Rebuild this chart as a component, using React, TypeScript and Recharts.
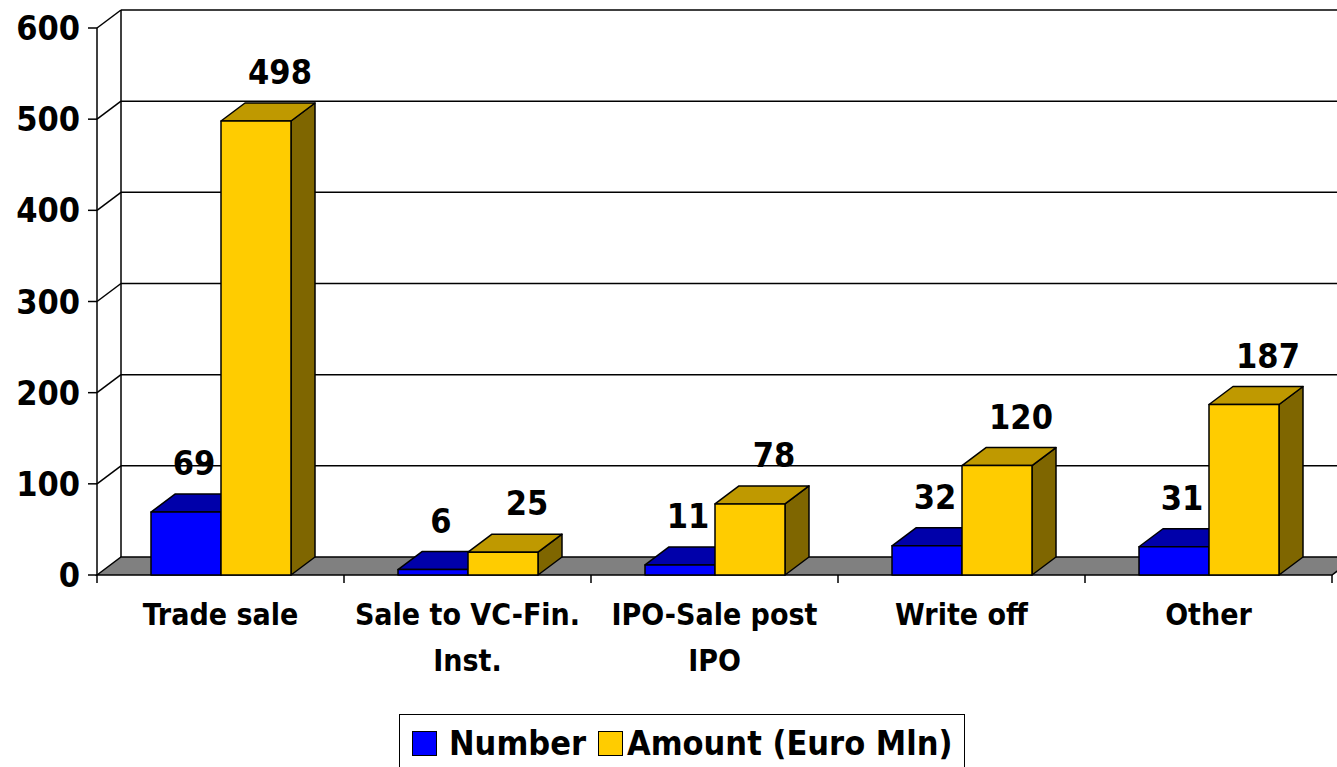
import { BarChart, Bar, XAxis, YAxis, CartesianGrid, LabelList, Legend } from 'recharts';

// exit routes, number of exits and amount divested
const categories = ['Trade sale', 'Sale to VC-Fin. Inst.', 'IPO-Sale post IPO', 'Write off', 'Other'];
const categoryLines = [['Trade sale'], ['Sale to VC-Fin.', 'Inst.'], ['IPO-Sale post', 'IPO'], ['Write off'], ['Other']];
const numberValues = [69, 6, 11, 32, 31];
const amountValues = [498, 25, 78, 120, 187];
const yTicks = [0, 100, 200, 300, 400, 500, 600];

const data = categories.map((name, i) => ({
    name,
    number: numberValues[i],
    amount: amountValues[i],
}));

const FONT = "'DejaVu Sans Condensed', 'DejaVu Sans', sans-serif";
const DX = 24;  // depth of the 3d effect
const DY = 18;

const Box3D = (props: any) => {
    const { x, y, width, height, front, top, side } = props;
    if (height == null || width == null) return null;
    return (
        <g stroke="#000" strokeWidth={1.5} strokeLinejoin="round">
            <polygon points={`${x + width},${y} ${x + width + DX},${y - DY} ${x + width + DX},${y + height - DY} ${x + width},${y + height}`} fill={side} />
            <polygon points={`${x},${y} ${x + DX},${y - DY} ${x + width + DX},${y - DY} ${x + width},${y}`} fill={top} />
            <rect x={x} y={y} width={width} height={height} fill={front} />
        </g>
    );
};

const renderHLine = (p: any) => {
    const { x1, x2, y1, y, height } = p;
    const bottom = y + height;
    if (Math.abs(y1 - bottom) < 1) {
        // floor + back wall left edge
        return (
            <g key={p.key}>
                <line x1={x1 + DX} y1={y - DY} x2={x1 + DX} y2={bottom - DY} stroke="#000" strokeWidth={1.5} />
                <polygon points={`${x1},${bottom} ${x1 + DX},${bottom - DY} ${x2 + DX},${bottom - DY} ${x2},${bottom}`}
                    fill="#808080" stroke="#000" strokeWidth={1.5} />
            </g>
        );
    }
    return (
        <g key={p.key}>
            <line x1={x1} y1={y1} x2={x1 + DX} y2={y1 - DY} stroke="#000" strokeWidth={1.5} />
            <line x1={x1 + DX} y1={y1 - DY} x2={x2 + DX} y2={y1 - DY} stroke="#000" strokeWidth={1.5} />
        </g>
    );
};

const renderVLine = (p: any) => (
    <line key={p.key} x1={p.x1} y1={p.y2} x2={p.x1} y2={p.y2 + 8} stroke="#000" strokeWidth={1.5} />
);

const CategoryTick = (props: any) => {
    const { x, y, index } = props;
    const lines = categoryLines[index] || [props.payload.value];
    return (
        <g>
            {lines.map((line, i) => (
                <text key={i} x={x} y={y + 42 + i * 46} textAnchor="middle" fontFamily={FONT} fontWeight="bold" fontSize={30} fill="#000">
                    {line}
                </text>
            ))}
        </g>
    );
};

const valueLabel = (offset: number) => (props: any) => {
    const { x, y, width, value } = props;
    return (
        <text x={x + width / 2 + offset} y={y - 49} textAnchor="middle" dominantBaseline="central"
            fontFamily={FONT} fontWeight="bold" fontSize={34} fill="#000">
            {value}
        </text>
    );
};

const LegendBox = () => (
    <div style={{
        border: '1.5px solid #000', display: 'flex', alignItems: 'center', padding: '8px 11px 20px 12px',
        fontFamily: FONT, fontWeight: 'bold', fontSize: 34, color: '#000', background: '#fff', whiteSpace: 'nowrap',
    }}>
        <span style={{ width: 23, height: 23, background: '#0000FF', border: '1.5px solid #000', marginRight: 12 }} />
        <span style={{ marginRight: 12 }}>Number</span>
        <span style={{ width: 23, height: 23, background: '#FFCC00', border: '1.5px solid #000', marginRight: 4 }} />
        <span>Amount (Euro Mln)</span>
    </div>
);

export default function App() {
    return (
        <div style={{ position: 'absolute', left: 0, top: 0, background: '#fff' }}>
            <BarChart width={1337} height={767} data={data}
                margin={{ top: 28, right: 5, left: 0, bottom: 132 }}
                barSize={70} barGap={0}>
                <CartesianGrid horizontal={renderHLine} vertical={renderVLine}
                    verticalCoordinatesGenerator={({ offset }: any) =>
                        [0, 1, 2, 3, 4, 5].map(i => offset.left + (i * offset.width) / categories.length)} />
                <XAxis dataKey="name" axisLine={false} tickLine={false} interval={0} height={60}
                    tick={<CategoryTick />} />
                <YAxis type="number" domain={[0, 600]} ticks={yTicks} interval={0} width={97}
                    tickSize={9} tickMargin={8}
                    axisLine={{ stroke: '#000', strokeWidth: 1.5 }} tickLine={{ stroke: '#000', strokeWidth: 1.5 }}
                    tick={{ fill: '#000', fontSize: 34, fontWeight: 'bold', fontFamily: FONT }} />
                <Legend verticalAlign="middle" wrapperStyle={{ top: 714, left: 399, width: 'auto', height: 'auto' }}
                    content={<LegendBox />} />
                <Bar dataKey="number" name="Number" isAnimationActive={false}
                    shape={(p: any) => <Box3D {...p} front="#0000FF" top="#0000AA" side="#000080" />}>
                    <LabelList dataKey="number" content={valueLabel(8)} />
                </Bar>
                <Bar dataKey="amount" name="Amount (Euro Mln)" isAnimationActive={false}
                    shape={(p: any) => <Box3D {...p} front="#FFCC00" top="#BF9900" side="#7F6600" />}>
                    <LabelList dataKey="amount" content={valueLabel(24)} />
                </Bar>
            </BarChart>
        </div>
    );
}
